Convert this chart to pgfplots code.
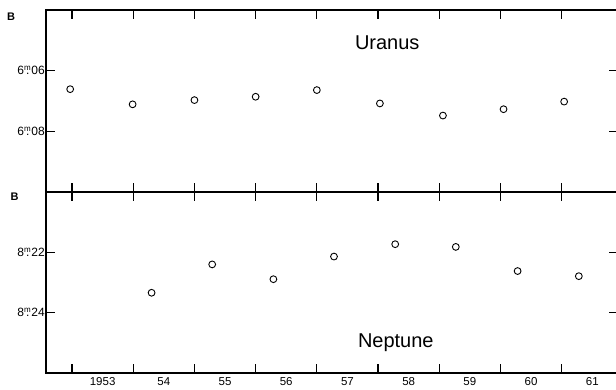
\documentclass[border=0pt]{standalone}
\usepackage{fontspec}
\setmainfont{Liberation Sans}
\usepackage{pgfplots}
\pgfplotsset{compat=1.18}
\newcommand{\magn}[2]{#1\textsuperscript{m}\kern-5.2pt.\kern2pt#2}
\begin{document}
\begin{tikzpicture}
\pgfplotsset{
  panel/.style={
    scale only axis,
    width=572pt,
    xmin=1952.575, xmax=1961.92,
    y dir=reverse,
    axis line style={line width=1.3pt},
    tick style={line width=1.2pt, black},
    major tick length=9pt,
    tick align=inside,
    xtick={1953,...,1961},
    xticklabels={},
    yticklabel style={inner sep=1pt, font=\fontsize{12}{14}\selectfont},
    xticklabel style={font=\fontsize{11.5}{13}\selectfont},
    clip=false,
  },
  pts/.style={only marks, mark=o, mark size=3.4pt, black, mark options={line width=0.9pt, draw=black, fill=none}},
}
% Uranus panel
\begin{axis}[panel,
  at={(46pt,197pt)}, anchor=south west,
  height=182pt,
  ymin=6.04, ymax=6.10,
  ytick={6.06,6.08},
  yticklabels={\magn{6}{06},\magn{6}{08}},
]
\addplot[pts] coordinates {
(1952.97,6.0661) (1953.99,6.0711) (1955.00,6.0697) (1956.00,6.0686)
(1957.00,6.0664) (1958.03,6.0708) (1959.06,6.0748) (1960.05,6.0727)
(1961.04,6.0702)
};
\node[font=\fontsize{20}{24}\selectfont] at (axis cs:1958.15,6.0509) {Uranus};
\node[font=\fontsize{11}{13}\selectfont\bfseries] at (axis description cs:0,1) [xshift=-35pt, yshift=-7pt] {B};
\end{axis}
% Neptune panel
\begin{axis}[panel,
  at={(46pt,16pt)}, anchor=south west,
  height=181pt,
  ymin=8.20, ymax=8.26,
  ytick={8.22,8.24},
  yticklabels={\magn{8}{22},\magn{8}{24}},
  extra x ticks={1953.5,1954.5,1955.5,1956.5,1957.5,1958.5,1959.5,1960.5,1961.5},
  extra x tick labels={1953,54,55,56,57,58,59,60,61},
  extra x tick style={major tick length=0pt, tick style={draw=none}, xticklabel style={yshift=-1pt}},
]
\addplot[pts] coordinates {
(1954.30,8.2334) (1955.29,8.2240) (1956.29,8.2289) (1957.28,8.2214)
(1958.28,8.2173) (1959.27,8.2182) (1960.28,8.2262) (1961.28,8.2279)
};
\node[font=\fontsize{20}{24}\selectfont] at (axis cs:1958.29,8.2501) {Neptune};
\node[font=\fontsize{11}{13}\selectfont\bfseries] at (axis description cs:0,1) [xshift=-31.5pt, yshift=-5pt] {B};
\end{axis}
\pgfresetboundingbox
\path (0pt,0pt) rectangle (616pt,389pt);
\end{tikzpicture}
\end{document}
